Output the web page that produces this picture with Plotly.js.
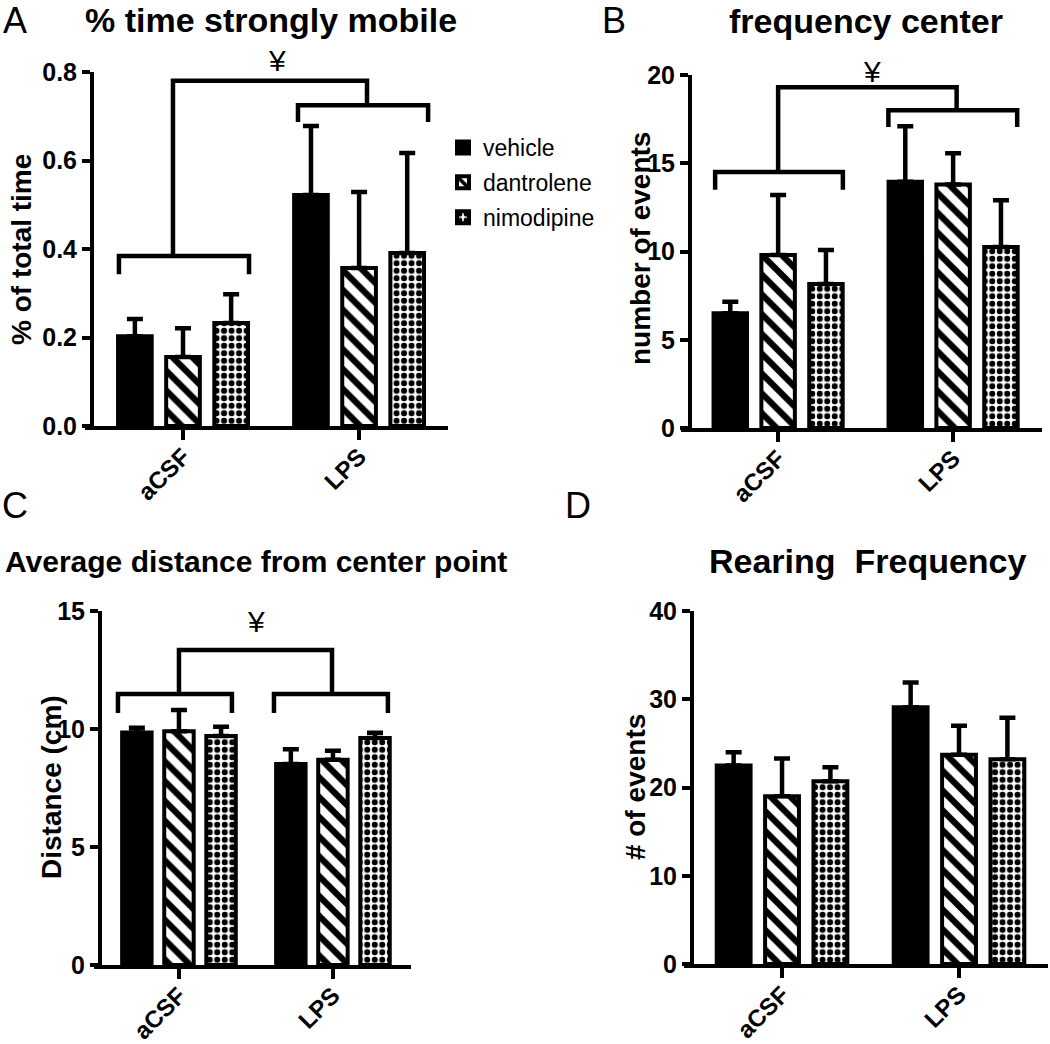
<!DOCTYPE html>
<html><head><meta charset="utf-8">
<script src="https://cdn.plot.ly/plotly-3.0.1.min.js"></script>
<style>html,body{margin:0;padding:0;background:#fff}#chart{width:1050px;height:1044px}</style>
</head><body><div id="chart"></div>
<script>
// ---------- data ----------
const groups = ['aCSF', 'LPS'];
const treatments = ['vehicle', 'dantrolene', 'nimodipine'];

// A: % time strongly mobile
const mobileVehicle = [0.203, 0.522];
const mobileVehicleSem = [0.039, 0.156];
const mobileDantrolene = [0.156, 0.357];
const mobileDantroleneSem = [0.065, 0.172];
const mobileNimodipine = [0.233, 0.391];
const mobileNimodipineSem = [0.065, 0.226];

// B: frequency center
const centerVehicle = [6.5, 13.95];
const centerVehicleSem = [0.65, 3.15];
const centerDantrolene = [9.8, 13.8];
const centerDantroleneSem = [3.4, 1.77];
const centerNimodipine = [8.16, 10.25];
const centerNimodipineSem = [1.92, 2.65];

// C: average distance from center point
const distVehicle = [9.85, 8.52];
const distVehicleSem = [0.2, 0.62];
const distDantrolene = [9.9, 8.7];
const distDantroleneSem = [0.9, 0.38];
const distNimodipine = [9.7, 9.62];
const distNimodipineSem = [0.4, 0.22];

// D: rearing frequency
const rearVehicle = [22.5, 29.1];
const rearVehicleSem = [1.5, 2.8];
const rearDantrolene = [19.0, 23.7];
const rearDantroleneSem = [4.3, 3.3];
const rearNimodipine = [20.7, 23.2];
const rearNimodipineSem = [1.6, 4.7];

// ---------- helpers ----------
const W = 1050, H = 1044;
const px = v => v / W;
const py = v => 1 - v / H;
const FONT = 'Liberation Sans, Arial, sans-serif';

const panels = [
  { xa: 'x',  ya: 'y',  legend: true,
    means: [mobileVehicle, mobileDantrolene, mobileNimodipine],
    sems: [mobileVehicleSem, mobileDantroleneSem, mobileNimodipineSem] },
  { xa: 'x2', ya: 'y2', legend: false,
    means: [centerVehicle, centerDantrolene, centerNimodipine],
    sems: [centerVehicleSem, centerDantroleneSem, centerNimodipineSem] },
  { xa: 'x3', ya: 'y3', legend: false,
    means: [distVehicle, distDantrolene, distNimodipine],
    sems: [distVehicleSem, distDantroleneSem, distNimodipineSem] },
  { xa: 'x4', ya: 'y4', legend: false,
    means: [rearVehicle, rearDantrolene, rearNimodipine],
    sems: [rearVehicleSem, rearDantroleneSem, rearNimodipineSem] }
];

const patterns = [
  { shape: '' },
  { shape: '\\', fgcolor: 'black', bgcolor: 'white', size: 14, solidity: 0.45, fillmode: 'replace' },
  { shape: '.', fgcolor: 'black', bgcolor: 'white', size: 7.5, solidity: 0.5, fillmode: 'replace' }
];
const fills = ['black', 'white', 'white'];

const traces = [];
panels.forEach(p => {
  treatments.forEach((t, i) => {
    traces.push({
      type: 'bar', x: [0, 1], y: p.means[i], name: t,
      xaxis: p.xa, yaxis: p.ya, offsetgroup: String(i), legendgroup: t,
      showlegend: p.legend,
      marker: { color: fills[i], line: { color: 'black', width: 4 }, pattern: patterns[i] },
      error_y: { type: 'data', symmetric: false, array: p.sems[i], arrayminus: p.sems[i].map(() => 0),
                 color: 'black', thickness: 4.5, width: 8 },
      hoverinfo: 'skip'
    });
  });
});

const xr = [-0.555, 1.505];
function xAxis(d0, d1, anchor) {
  return { domain: [px(d0), px(d1)], range: xr, anchor: anchor,
    tickvals: [0, 1], ticktext: groups, tickangle: -45, ticklabelstandoff: -7,
    ticks: 'outside', ticklen: 10, tickwidth: 4, tickcolor: 'black',
    showline: true, linewidth: 4, linecolor: 'black', showgrid: false, zeroline: false,
    tickfont: { family: FONT, size: 24, color: 'black', weight: 'bold' } };
}
function yAxis(top, bottom, pos, range, dtick, fmt) {
  return { domain: [py(bottom), py(top)], range: range, dtick: dtick, tickformat: fmt,
    anchor: 'free', position: px(pos),
    ticks: 'outside', ticklen: 8, tickwidth: 4, tickcolor: 'black',
    showline: true, linewidth: 4, linecolor: 'black', showgrid: false, zeroline: false,
    tickfont: { family: FONT, size: 25, color: 'black', weight: 'bold' } };
}

// significance brackets: left group bracket [x0, x1, y, legEnd], right group bracket, connector [x0, x1, y], ¥ mark position (px)
const sigA = { left: [-0.364, 0.375, 0.384, 0.343], right: [0.653, 1.392, 0.725, 0.687], stem: [-0.057, 1.045, 0.78], mark: [277, 60] };
const sigB = { left: [-0.36, 0.37, 14.5, 13.5], right: [0.63, 1.366, 18.0, 17.05], stem: [0.0, 1.02, 19.3], mark: [872, 71] };
const sigC = { left: [-0.396, 0.344, 11.48, 10.68], right: [0.617, 1.357, 11.48, 10.68], stem: [0.0, 0.994, 13.35], mark: [256, 621] };

const shapes = [];
const annotations = [];
function addSig(s, xa, ya) {
  const [l0, l1, ly, lleg] = s.left, [r0, r1, ry, rleg] = s.right, [sx0, sx1, sy] = s.stem;
  const ln = { color: 'black', width: 4.5 };
  shapes.push({ type: 'path', xref: xa, yref: ya, line: ln,
    path: `M${l0},${lleg} L${l0},${ly} L${l1},${ly} L${l1},${lleg}` });
  shapes.push({ type: 'path', xref: xa, yref: ya, line: ln,
    path: `M${r0},${rleg} L${r0},${ry} L${r1},${ry} L${r1},${rleg}` });
  shapes.push({ type: 'path', xref: xa, yref: ya, line: ln,
    path: `M${sx0},${ly} L${sx0},${sy} L${sx1},${sy} L${sx1},${ry}` });
  annotations.push({ xref: 'paper', yref: 'paper', x: px(s.mark[0]), y: py(s.mark[1]), text: '¥', showarrow: false,
    xanchor: 'center', yanchor: 'middle', font: { family: FONT, size: 30, color: 'black' } });
}
addSig(sigA, 'x', 'y');
addSig(sigB, 'x2', 'y2');
addSig(sigC, 'x3', 'y3');

const titles = [
  ['% time strongly mobile', 271, 20, 34], ['frequency center', 866, 21, 34],
  ['Average distance from center point', 256, 561, 30], ['Rearing  Frequency', 868, 561, 34]
];
titles.forEach(([t, x, y, s]) => annotations.push({ xref: 'paper', yref: 'paper', x: px(x), y: py(y),
  text: t.replace(/  /g, '&nbsp; '), showarrow: false, xanchor: 'center', yanchor: 'middle',
  font: { family: FONT, size: s, color: 'black', weight: 'bold' } }));

// y-axis titles
const yTitles = [
  ['% of total time', 21, 250], ['number of events', 640, 249],
  ['Distance (cm)', 51, 787], ['# of events', 635, 787]
];
yTitles.forEach(([t, x, y]) => annotations.push({ xref: 'paper', yref: 'paper', x: px(x), y: py(y),
  text: t, textangle: -90, showarrow: false, xanchor: 'center', yanchor: 'middle',
  font: { family: FONT, size: 28, color: 'black', weight: 'bold' } }));

const letters = [['A', 15, 20], ['B', 614, 21], ['C', 15, 505], ['D', 578, 505]];
letters.forEach(([t, x, y]) => annotations.push({ xref: 'paper', yref: 'paper', x: px(x), y: py(y),
  text: t, showarrow: false, xanchor: 'center', yanchor: 'middle',
  font: { family: FONT, size: 36, color: 'black' } }));

const layout = {
  width: W, height: H, margin: { l: 0, r: 0, t: 0, b: 0 },
  paper_bgcolor: 'white', plot_bgcolor: 'white',
  barmode: 'group', bargap: 0.18, bargroupgap: 0.3,
  font: { family: FONT, color: 'black' },
  xaxis: xAxis(85.3, 448, 'y'),
  yaxis: yAxis(72, 426, 92, [0, 0.8], 0.2, '.1f'),
  xaxis2: xAxis(681, 1041.5, 'y2'),
  yaxis2: yAxis(75, 428, 690, [0, 20], 5, ''),
  xaxis3: xAxis(93.5, 410.7, 'y3'),
  yaxis3: yAxis(611, 965, 100, [0, 15], 5, ''),
  xaxis4: xAxis(683.8, 1048.4, 'y4'),
  yaxis4: yAxis(611, 964, 692, [0, 40], 10, ''),
  showlegend: true,
  legend: { x: px(443), y: py(126), xanchor: 'left', yanchor: 'top', bgcolor: 'rgba(0,0,0,0)',
    font: { family: FONT, size: 23, color: 'black' }, itemwidth: 30, tracegroupgap: 2 },
  shapes: shapes, annotations: annotations
};

Plotly.newPlot('chart', traces, layout, { displayModeBar: false, staticPlot: true });
</script></body></html>
